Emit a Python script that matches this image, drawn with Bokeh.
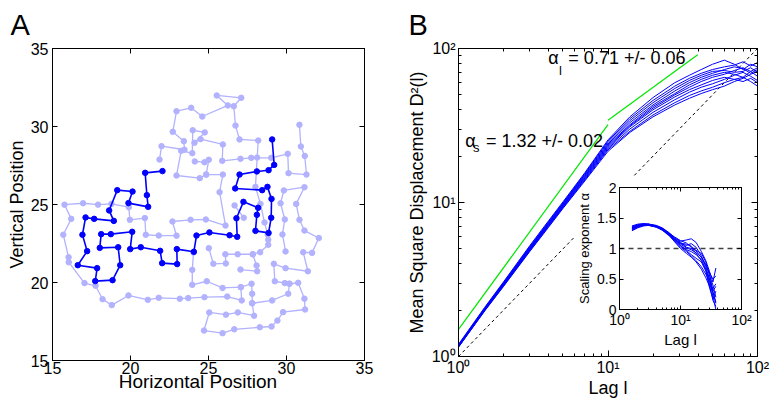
from bokeh.plotting import figure
from bokeh.models import Range1d, FixedTicker, LinearAxis, LogAxis, CustomJSTickFormatter, Label, Title
from bokeh.layouts import row, column
from bokeh.embed import file_html
from bokeh.resources import INLINE

FONT = "Liberation Sans"
LIGHT = "#b2b2ff"
DARK = "#0000ff"

# ---------------- Panel A data (positions) ----------------
dark_x = [22.05, 20.94, 21.05, 21.13, 19.87, 20.13, 19.15, 18.63, 18.93, 17.67, 17.12, 16.92, 17.22, 16.62,
          17.86, 17.74, 18.85, 19.34, 19.21, 18.03, 18.12, 18.74, 20.11, 19.98, 20.66, 21.90, 22.03, 22.99,
          22.97, 24.06, 24.23, 25.06, 26.35, 26.84, 26.79, 27.24, 28.18, 28.10, 28.01, 28.85, 29.02, 29.04,
          28.78, 28.44, 26.71, 26.99, 28.10, 28.85, 29.21, 29.08]
dark_y = [27.14, 27.03, 25.60, 24.85, 25.09, 25.83, 25.92, 24.62, 23.95, 24.08, 24.17, 23.06, 22.01, 21.11,
          20.92, 20.09, 20.15, 21.11, 22.26, 22.22, 23.10, 23.10, 23.25, 22.14, 22.26, 22.03, 21.24, 21.18,
          22.14, 21.97, 23.01, 23.21, 23.03, 22.93, 24.12, 25.17, 24.79, 24.34, 23.31, 23.18, 24.15, 25.36,
          26.13, 25.92, 26.03, 26.92, 27.12, 27.20, 27.54, 29.17]

chainR_x = [30.83, 30.92, 31.17, 31.28, 30.13, 30.08, 29.02, 27.74, 27.05, 25.88, 25.92, 24.49, 24.10, 24.76,
            23.99, 23.96, 23.25, 22.95, 24.44, 24.85, 25.02, 24.74, 24.12]
chainR_y = [30.11, 28.72, 28.11, 26.92, 27.01, 28.25, 27.99, 27.99, 27.93, 27.80, 28.85, 29.19, 28.96, 29.62,
            29.76, 28.29, 28.44, 26.86, 26.69, 26.92, 27.87, 27.71, 27.76]

chainT_x = [25.02, 25.31, 26.11, 26.08, 26.87, 27.84, 28.31, 28.83, 28.83, 28.80, 28.59, 28.33, 28.01, 28.12,
            28.19, 26.99, 26.73, 26.62, 27.10, 25.53, 26.24, 24.60, 23.89, 22.95, 22.71, 23.42, 23.46, 21.99, 21.86]
chainT_y = [22.20, 21.20, 21.22, 21.81, 21.81, 21.81, 21.94, 22.42, 22.74, 23.06, 23.85, 25.04, 26.13, 28.01,
            29.10, 29.17, 30.06, 31.30, 31.84, 31.99, 31.35, 30.64, 31.20, 30.98, 29.66, 29.06, 28.51, 28.74, 27.88]

chainL_x = [24.85, 25.92, 25.71, 26.09, 24.83, 23.85, 22.69, 22.95, 21.81, 20.98, 20.92, 19.96, 19.89, 18.78,
            17.92, 16.96, 15.77, 16.20, 15.69, 16.03, 16.04, 17.05, 17.76, 18.21, 18.80, 19.87, 21.11, 21.81,
            23.16, 23.70, 24.74, 26.20, 27.13, 27.07, 27.76, 27.80, 27.80, 27.92, 26.88, 26.12, 25.05, 24.71,
            25.90, 26.65, 28.29, 29.04, 29.42, 29.78, 31.19, 31.15, 30.75, 30.19, 29.89, 29.25, 29.19, 29.94,
            31.37, 31.07, 31.64, 32.07, 31.15, 30.83, 30.62, 31.15, 29.83, 29.62, 29.89, 29.74, 29.94]
chainL_y = [26.92, 26.92, 25.79, 23.65, 24.04, 24.02, 23.91, 23.00, 23.01, 23.06, 24.13, 24.02, 24.83, 25.04,
            24.99, 25.08, 24.99, 24.08, 23.06, 21.62, 21.30, 19.96, 19.79, 18.93, 18.55, 19.17, 18.89, 19.02,
            18.96, 19.00, 19.06, 19.10, 18.85, 19.70, 19.92, 19.28, 18.67, 17.87, 18.08, 17.94, 18.08, 16.92,
            16.75, 17.00, 17.13, 17.18, 17.56, 18.10, 18.27, 18.96, 19.98, 19.92, 19.96, 20.08, 21.20, 20.92,
            20.72, 21.94, 21.90, 22.85, 23.33, 24.02, 25.04, 26.11, 25.90, 25.08, 24.04, 23.08, 21.99]

chain6_x = [24.04, 23.96, 23.96, 24.89, 25.90, 27.07]
chain6_y = [21.92, 20.81, 19.85, 20.08, 19.65, 19.70]
chain7_x = [27.84, 28.08, 28.12, 27.05]
chain7_y = [21.81, 21.09, 20.72, 20.83]
chain9_x = [27.80, 29.08, 30.11, 30.19]
chain9_y = [18.67, 18.85, 19.28, 19.92]
chain10_x = [26.67, 27.26]
chain10_y = [24.94, 24.15]

ticks_A = [15, 20, 25, 30, 35]

# ---------------- Panel B data ----------------
lag = [1, 1.5, 2, 3, 4, 5, 7, 10, 14, 20, 28, 35, 42, 50, 60, 70, 80, 90, 100]
msd_1 = [1.20, 2.09, 3.05, 5.25, 7.6, 10.1, 15.6, 25.5, 36, 48, 60, 67, 73, 79, 84, 79, 73, 79, 76]
msd_2 = [1.19, 2.07, 3.02, 5.18, 7.5, 9.95, 15.4, 25.0, 35, 46, 57, 64, 69, 73, 76, 78, 82, 77, 81]
msd_3 = [1.18, 2.05, 2.99, 5.12, 7.4, 9.85, 15.2, 24.5, 34, 44.5, 55, 62, 67, 71, 72, 70, 71, 75, 70]
msd_4 = [1.18, 2.04, 2.97, 5.08, 7.35, 9.75, 15.0, 24.0, 33, 43, 53, 60, 65, 69, 73, 76, 74, 69, 73]
msd_5 = [1.17, 2.03, 2.95, 5.03, 7.28, 9.65, 14.8, 23.6, 32, 42, 51, 58, 63, 67, 70, 68, 65, 71, 75]
msd_6 = [1.17, 2.02, 2.93, 4.99, 7.2, 9.55, 14.6, 23.2, 31.5, 41, 50, 56, 61, 65, 68, 72, 75, 71, 66]
msd_7 = [1.16, 2.01, 2.91, 4.95, 7.13, 9.45, 14.4, 22.8, 31, 40, 48.5, 54, 58, 62, 65, 63, 61, 64, 60]
msd_8 = [1.16, 2.0, 2.89, 4.9, 7.06, 9.35, 14.2, 22.4, 30, 38.5, 46.5, 52, 56, 59, 63, 67, 70, 66, 62]
msd_9 = [1.15, 1.99, 2.87, 4.86, 6.98, 9.25, 14.0, 22.0, 29, 37, 44.5, 49.5, 53, 56, 60, 63, 65, 61, 57]
msd_10 = [1.15, 1.98, 2.85, 4.81, 6.9, 9.15, 13.8, 21.5, 28.5, 36, 43, 47.5, 51, 54, 57, 61, 64, 68, 71]

fit_s_lag = [1, 10]
fit_s_msd = [1.5, 32]
fit_l_lag = [10, 39.8]
fit_l_msd = [34.2, 91.2]
diag1 = [1, 5.9]
diag2 = [15, 100]

ticks_log = [1, 10, 100]
minor_log = [2, 3, 4, 5, 6, 7, 8, 9, 20, 30, 40, 50, 60, 70, 80, 90]

# ---------------- Inset data ----------------
lag_in = [1.6, 2, 2.5, 3, 4, 5, 6.5, 8, 10, 12.5, 15, 18, 22, 26, 30, 34, 38]
alpha_1 = [1.36, 1.39, 1.40, 1.39, 1.36, 1.32, 1.24, 1.17, 1.12, 1.14, 1.16, 1.10, 0.95, 0.80, 0.62, 0.45, 0.68]
alpha_2 = [1.33, 1.37, 1.39, 1.40, 1.37, 1.33, 1.25, 1.16, 1.08, 1.05, 1.08, 1.02, 0.88, 0.70, 0.50, 0.30, 0.38]
alpha_3 = [1.30, 1.35, 1.38, 1.39, 1.36, 1.31, 1.22, 1.13, 1.05, 0.98, 0.95, 0.90, 0.82, 0.66, 0.40, 0.15, 0.05]
alpha_4 = [1.35, 1.38, 1.40, 1.40, 1.38, 1.34, 1.26, 1.18, 1.10, 1.02, 1.00, 0.97, 0.92, 0.78, 0.55, 0.40, 0.20]
alpha_5 = [1.31, 1.36, 1.38, 1.38, 1.35, 1.30, 1.21, 1.12, 1.02, 0.95, 0.88, 0.80, 0.70, 0.58, 0.45, 0.28, 0.10]
alpha_6 = [1.34, 1.38, 1.39, 1.38, 1.35, 1.31, 1.23, 1.15, 1.09, 1.07, 1.04, 0.96, 0.85, 0.72, 0.60, 0.50, 0.55]
alpha_7 = [1.32, 1.36, 1.39, 1.39, 1.37, 1.32, 1.24, 1.14, 1.04, 0.97, 0.90, 0.84, 0.78, 0.63, 0.35, 0.18, 0.30]
alpha_8 = [1.37, 1.40, 1.41, 1.40, 1.37, 1.33, 1.25, 1.19, 1.13, 1.09, 1.02, 0.92, 0.80, 0.65, 0.48, 0.22, 0.0]
alpha_9 = [1.29, 1.34, 1.37, 1.38, 1.36, 1.31, 1.22, 1.11, 1.00, 0.92, 0.86, 0.78, 0.66, 0.52, 0.38, 0.35, 0.42]
alpha_10 = [1.33, 1.37, 1.39, 1.39, 1.36, 1.32, 1.23, 1.15, 1.07, 1.01, 0.98, 0.93, 0.86, 0.74, 0.58, 0.30, 0.12]
ref_alpha = [1, 1]
ref_lag = [1, 100]
ticks_alpha = [0, 0.5, 1, 1.5, 2]


def pow_fmt():
    return CustomJSTickFormatter(code="""
const e = Math.round(Math.log10(tick));
const sup = {"0": "\u2070", "1": "\u00b9", "2": "\u00b2", "3": "\u00b3", "-": "\u207b"};
return "10" + String(e).split("").map(c => sup[c]).join("");
""")


def style_axis(ax, tick_size, label_size, tick_in, minor_in, standoff, label_standoff):
    ax.axis_line_color = "black"
    ax.axis_line_width = 1
    ax.major_tick_line_color = "black"
    ax.minor_tick_line_color = "black"
    ax.major_tick_in = tick_in
    ax.major_tick_out = 0
    ax.minor_tick_in = minor_in
    ax.minor_tick_out = 0
    ax.major_label_text_font = FONT
    ax.major_label_text_font_size = tick_size
    ax.major_label_text_color = "black"
    ax.major_label_standoff = standoff
    ax.axis_label_text_font = FONT
    ax.axis_label_text_font_size = label_size
    ax.axis_label_text_font_style = "normal"
    ax.axis_label_text_color = "black"
    ax.axis_label_standoff = label_standoff


def add_mirror(p, cls, side, ticker, tick_in, minor_in):
    ax = cls(ticker=ticker, axis_label=None)
    ax.major_label_text_font_size = "1px"
    ax.major_label_text_alpha = 0
    ax.major_label_standoff = 0
    ax.axis_line_color = "black"
    ax.major_tick_line_color = "black"
    ax.minor_tick_line_color = "black"
    ax.major_tick_in = tick_in
    ax.major_tick_out = 0
    ax.minor_tick_in = minor_in
    ax.minor_tick_out = 0
    p.add_layout(ax, side)


def add_letter(p, text, offset):
    t = Title(text=text, align="left", offset=offset, standoff=12, vertical_align="top",
              text_font=FONT, text_font_size="29px", text_font_style="normal", text_color="black")
    p.add_layout(t, "above")


# ---------------- Panel A ----------------
pA = figure(width=398, height=400, x_range=Range1d(15, 35), y_range=Range1d(15, 35),
            output_backend="svg", toolbar_location=None, title=None,
            min_border_left=52, min_border_right=34, min_border_top=48, min_border_bottom=40)
pA.grid.visible = False
pA.outline_line_color = "black"
pA.background_fill_color = "white"
pA.border_fill_color = "white"
axA_x = pA.below[0]
axA_y = pA.left[0]
axA_x.ticker = FixedTicker(ticks=ticks_A)
axA_y.ticker = FixedTicker(ticks=ticks_A)
style_axis(axA_x, "16px", "19px", 5, 0, 1, -6)
style_axis(axA_y, "16px", "18px", 5, 0, 4, 1)
axA_x.axis_label = "Horizontal Position" + "\u00a0" * 4
axA_y.axis_label = "Vertical Position"
add_mirror(pA, LinearAxis, "above", FixedTicker(ticks=ticks_A), 5, 0)
add_mirror(pA, LinearAxis, "right", FixedTicker(ticks=ticks_A), 5, 0)
add_letter(pA, "A", -42)

light_xs = [chainR_x, chainT_x, chainL_x, chain6_x, chain7_x, chain9_x, chain10_x]
light_ys = [chainR_y, chainT_y, chainL_y, chain6_y, chain7_y, chain9_y, chain10_y]
pA.multi_line(xs=light_xs, ys=light_ys, line_color=LIGHT, line_width=1.3)
pA.scatter(x=sum(light_xs, []), y=sum(light_ys, []), size=5.5, color=LIGHT)
pA.line(dark_x, dark_y, line_color=DARK, line_width=1.6)
pA.scatter(dark_x, dark_y, size=5.5, color=DARK)

# ---------------- Panel B ----------------
pB = figure(width=379, height=400, x_axis_type="log", y_axis_type="log",
            x_range=Range1d(1, 100), y_range=Range1d(1, 100),
            output_backend="svg", toolbar_location=None, title=None,
            min_border_left=55, min_border_right=12, min_border_top=48, min_border_bottom=40)
pB.grid.visible = False
pB.outline_line_color = "black"
pB.background_fill_color = "white"
pB.border_fill_color = "white"
axB_x = pB.below[0]
axB_y = pB.left[0]
axB_x.ticker = FixedTicker(ticks=ticks_log, minor_ticks=minor_log)
axB_y.ticker = FixedTicker(ticks=ticks_log, minor_ticks=minor_log)
axB_x.formatter = pow_fmt()
axB_y.formatter = pow_fmt()
style_axis(axB_x, "16px", "18px", 6, 3, 2, -1)
style_axis(axB_y, "16px", "18px", 6, 3, 3, 2)
axB_x.axis_label = "Lag l"
axB_y.axis_label = "Mean Square Displacement D\u00b2(l)"
add_mirror(pB, LogAxis, "above", FixedTicker(ticks=ticks_log, minor_ticks=minor_log), 6, 3)
add_mirror(pB, LogAxis, "right", FixedTicker(ticks=ticks_log, minor_ticks=minor_log), 6, 3)
add_letter(pB, "B", -50)

pB.line(diag1, diag1, line_color="black", line_width=1, line_dash="3 3")
pB.line(diag2, diag2, line_color="black", line_width=1, line_dash="3 3")
msd_all = [msd_1, msd_2, msd_3, msd_4, msd_5, msd_6, msd_7, msd_8, msd_9, msd_10]
pB.multi_line(xs=[lag] * len(msd_all), ys=msd_all, line_color=DARK, line_width=1)
pB.line(fit_s_lag, fit_s_msd, line_color="#00e600", line_width=1.2)
pB.line(fit_l_lag, fit_l_msd, line_color="#00e600", line_width=1.2)

pB.add_layout(Label(x=1.108, y=21.5, text="\u03b1", text_font=FONT, text_font_size="18px", text_color="black"))
pB.add_layout(Label(x=1.248, y=20.3, text="s", text_font=FONT, text_font_size="13px", text_color="black"))
pB.add_layout(Label(x=1.527, y=21.5, text="= 1.32 +/- 0.02", text_font=FONT, text_font_size="18px",
                    text_color="black"))
pB.add_layout(Label(x=3.99, y=74.5, text="\u03b1", text_font=FONT, text_font_size="18px", text_color="black"))
pB.add_layout(Label(x=4.71, y=64.2, text="l", text_font=FONT, text_font_size="13px", text_color="black"))
pB.add_layout(Label(x=5.43, y=74.5, text="= 0.71 +/- 0.06", text_font=FONT, text_font_size="18px",
                    text_color="black"))

# ---------------- Inset ----------------
inset = figure(frame_width=122, frame_height=122, x_axis_type="log",
               x_range=Range1d(1, 100), y_range=Range1d(0, 2), title=None,
               output_backend="svg", toolbar_location=None,
               min_border_left=60, min_border_right=20, min_border_top=25, min_border_bottom=45)
inset.grid.visible = False
inset.outline_line_color = "black"
inset.background_fill_color = "white"
inset.border_fill_alpha = 0
axI_x = inset.below[0]
axI_y = inset.left[0]
axI_x.ticker = FixedTicker(ticks=ticks_log, minor_ticks=minor_log)
axI_y.ticker = FixedTicker(ticks=ticks_alpha)
axI_x.formatter = pow_fmt()
axI_y.formatter = CustomJSTickFormatter(code="return tick.toString();")
style_axis(axI_x, "14px", "15px", 4, 2, 2, 0)
style_axis(axI_y, "14px", "13px", 4, 0, 3, 2)
axI_x.axis_label = "Lag l"
axI_y.axis_label = "Scaling exponent \u03b1"
add_mirror(inset, LogAxis, "above", FixedTicker(ticks=ticks_log, minor_ticks=minor_log), 4, 2)
add_mirror(inset, LinearAxis, "right", FixedTicker(ticks=ticks_alpha), 4, 0)

alpha_all = [alpha_1, alpha_2, alpha_3, alpha_4, alpha_5, alpha_6, alpha_7, alpha_8, alpha_9, alpha_10]
inset.line(ref_lag, ref_alpha, line_color="#404040", line_width=1.3, line_dash="5 4")
inset.multi_line(xs=[lag_in] * len(alpha_all), ys=alpha_all, line_color=DARK, line_width=1)

inset.margin = (-238, 0, 0, 161)

layout = row(pA, column(pB, inset))
open("out.html", "w").write(file_html(layout, INLINE))
